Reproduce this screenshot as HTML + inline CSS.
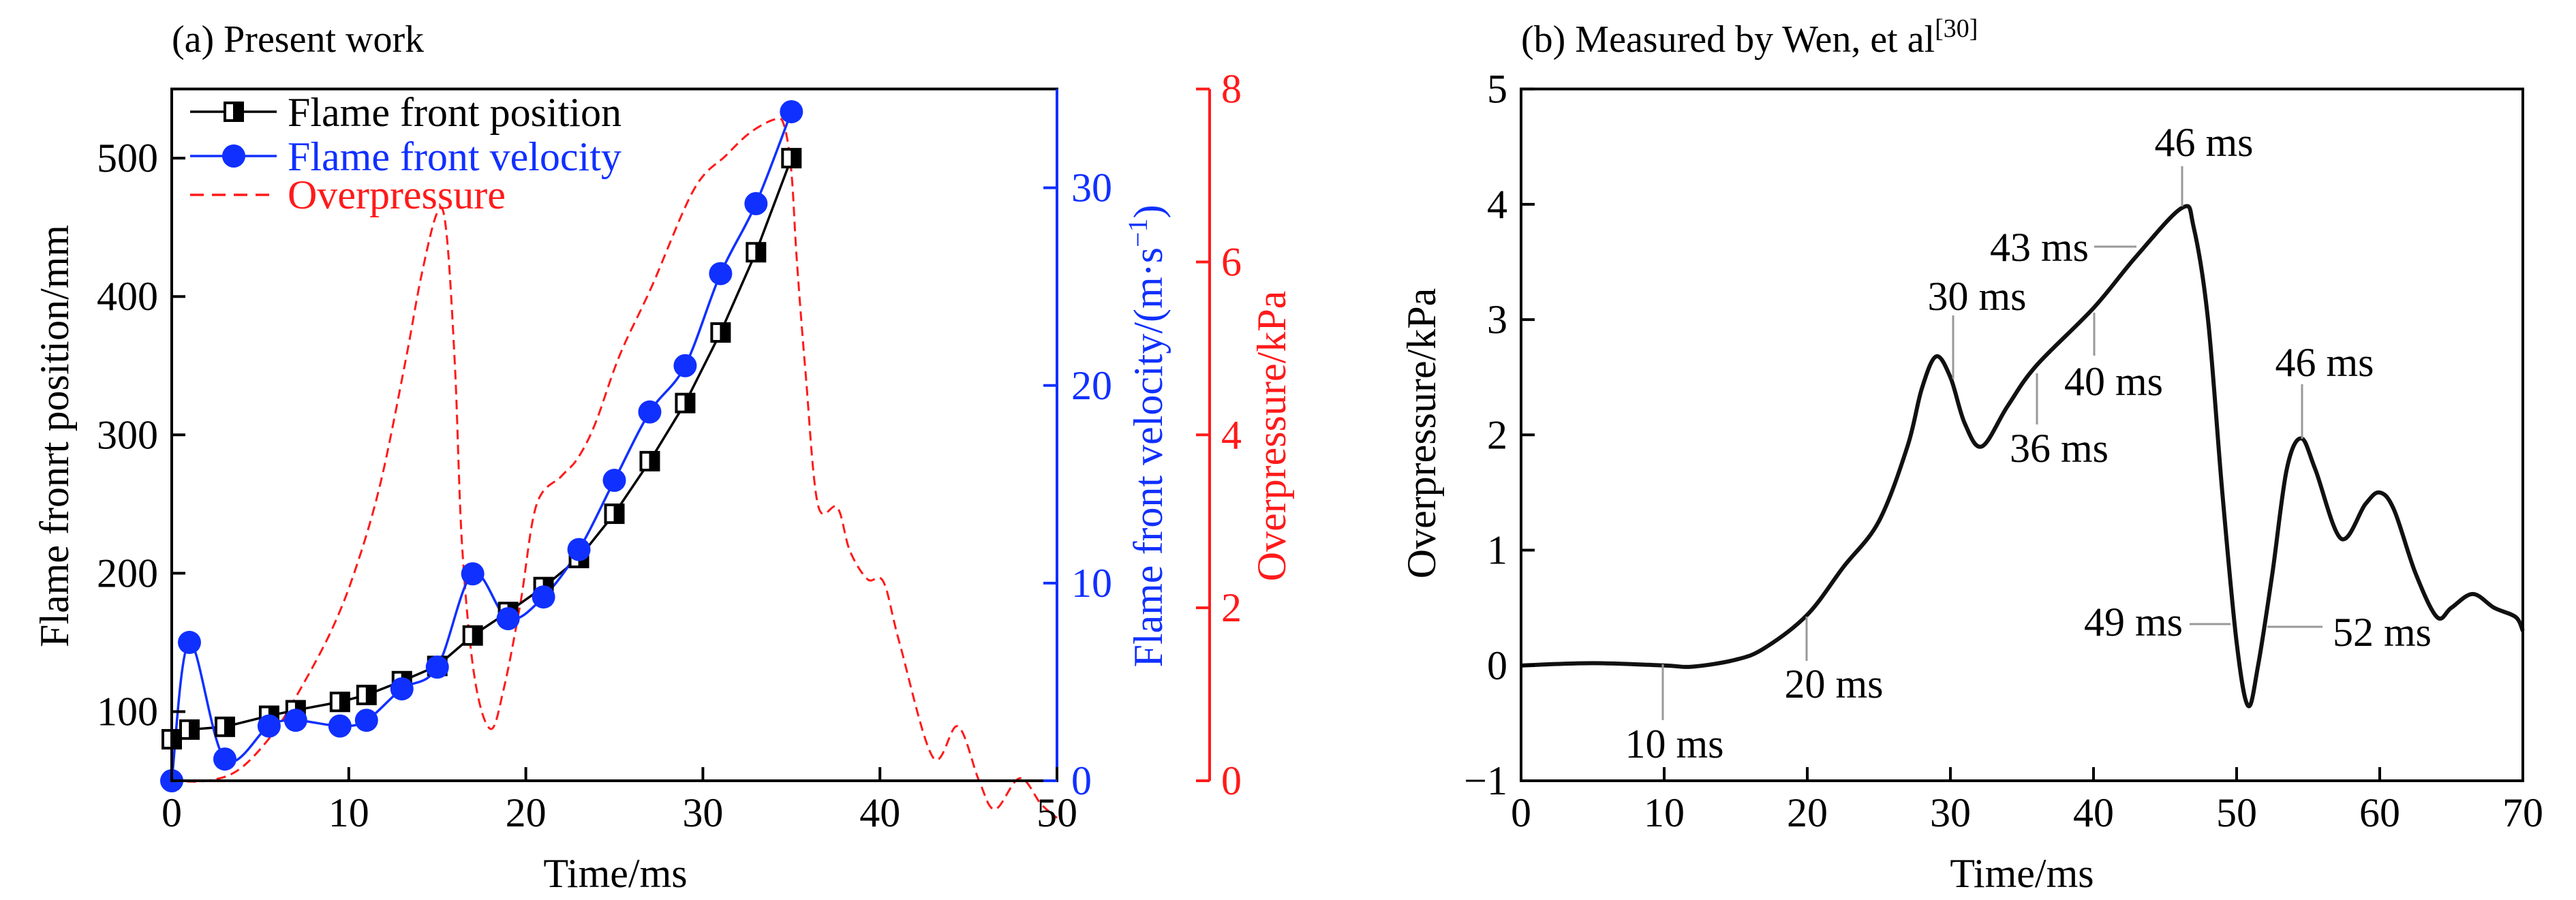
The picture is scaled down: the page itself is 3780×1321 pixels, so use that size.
<!DOCTYPE html>
<html><head><meta charset="utf-8"><style>
html,body{margin:0;padding:0;background:#fff;}
svg{display:block;font-family:"Liberation Serif",serif;}
</style></head><body>
<svg id="fig" width="3780" height="1321" viewBox="0 0 3780 1321" xmlns="http://www.w3.org/2000/svg">
<g id="left"></g>
<g id="right"></g>
</svg>
<script>
// ---- Left chart data ----
const posT = [0,1,3,5.5,7,9.5,11,13,15,17,19,21,23,25,27,29,31,33,35];
const posV = [80,87,89,97,101,107,112,122,133,155,172,190,211,243,281,323,374,432,500];
const velT = [0,1,3,5.5,7,9.5,11,13,15,17,19,21,23,25,27,29,31,33,35];
const velV = [0,7.0,1.1,2.77,3.06,2.77,3.06,4.65,5.75,10.47,8.2,9.3,11.7,15.2,18.66,21.0,25.66,29.2,33.85];
const prT = [0,2,3.8,5.7,7.1,9,10.4,11.8,13.2,14.1,15,15.5,16,16.4,17.1,18,18.75,19.7,20.6,22,22.9,23.9,25.3,27.1,29.5,31.3,32.7,34.1,34.6,35,35.3,35.8,36.5,37.6,38.3,39.3,40.2,41.1,43,44.4,45.6,46.5,47.9,49.1,50];
const prV = [0,0,0.13,0.54,1.0,1.73,2.46,3.45,4.85,5.84,6.57,6.37,4.78,2.72,1.2,0.6,1.06,2.06,3.19,3.52,3.72,4.12,4.92,5.71,6.84,7.23,7.5,7.65,7.57,7.04,6.04,4.72,3.19,3.16,2.66,2.33,2.3,1.6,0.27,0.63,0,-0.33,0.03,-0.27,-0.43];
const lxTicks = [0,10,20,30,40,50];
const lyTicks = [100,200,300,400,500];
const blueTicks = [0,10,20,30];
const redTicks = [0,2,4,6,8];
// ---- Right chart data ----
const mT = [0,5,10,12,15,17,20,22.5,25,27,28,29,30,31,32.2,34,36,40,43,46.2,47,48,49,50,50.8,51.5,52.5,53.5,54.5,55.5,57.3,59,60,61,62.5,64,65,66.5,68,69.5,70];
const mV = [0,0.02,0,-0.01,0.05,0.15,0.44,0.85,1.25,1.9,2.4,2.68,2.5,2.1,1.9,2.25,2.6,3.1,3.55,3.97,3.8,3.0,1.5,0.2,-0.35,0,0.8,1.7,1.97,1.7,1.1,1.4,1.5,1.35,0.8,0.42,0.5,0.62,0.5,0.42,0.3];
const rxTicks = [0,10,20,30,40,50,60,70];
const ryTicks = [-1,0,1,2,3,4,5];

const NS="http://www.w3.org/2000/svg";
function mk(parent,tag,attrs,text){const e=document.createElementNS(NS,tag);for(const k in attrs)e.setAttribute(k,attrs[k]);if(text!==undefined)e.textContent=text;parent.appendChild(e);return e;}
function spline(pts){let d=`M${pts[0][0]},${pts[0][1]}`;for(let i=0;i<pts.length-1;i++){const p0=pts[Math.max(0,i-1)],p1=pts[i],p2=pts[i+1],p3=pts[Math.min(pts.length-1,i+2)];const c1=[p1[0]+(p2[0]-p0[0])/6,p1[1]+(p2[1]-p0[1])/6],c2=[p2[0]-(p3[0]-p1[0])/6,p2[1]-(p3[1]-p1[1])/6];d+=`C${c1[0]},${c1[1]} ${c2[0]},${c2[1]} ${p2[0]},${p2[1]}`;}return d;}

// Left axes
const L={x0:252,x1:1551,y0:130.6,y1:1146};
const lx=t=>L.x0+(t-0)/50*(L.x1-L.x0);
const ly=v=>L.y1-(v-50)/500*(L.y1-L.y0);
const by=v=>L.y1-v/35*(L.y1-L.y0);
const ry=v=>L.y1-v/8*(L.y1-L.y0);
const lg=document.getElementById('left');
let e;
e=mk(lg,'text',{x:252,y:76,'font-size':56},'(a) Present work');

e=mk(lg,'path',{d:spline(prT.map((t,i)=>[lx(t),ry(prV[i])])),fill:'none',stroke:'#ff1a1a','stroke-width':3,'stroke-dasharray':'14,8'});

e=mk(lg,'path',{d:'M'+posT.map((t,i)=>lx(t)+','+ly(posV[i])).join('L'),fill:'none',stroke:'#000','stroke-width':3.5});

e=mk(lg,'path',{d:spline(velT.map((t,i)=>[lx(t),by(velV[i])])),fill:'none',stroke:'#1030ff','stroke-width':3.5});

function sq(g,x,y){const s=26;const gg=mk(g,'g',{});mk(gg,'rect',{x:x-s/2,y:y-s/2,width:s,height:s,fill:'#fff',stroke:'#000','stroke-width':4});mk(gg,'rect',{x:x-2,y:y-s/2,width:s/2+2,height:s,fill:'#000'});mk(gg,'rect',{x:x-s/2+4,y:y-s/2+2,width:s/2-5,height:s-4,fill:'#fff'});return gg;}
posT.forEach((t,i)=>{const m=sq(lg,lx(t),ly(posV[i]));

});
velT.forEach((t,i)=>{const m=mk(lg,'circle',{cx:lx(t),cy:by(velV[i]),r:17,fill:'#1030ff'});

});
e=mk(lg,'rect',{x:L.x0,y:L.y0,width:L.x1-L.x0,height:L.y1-L.y0,fill:'none',stroke:'#000','stroke-width':4});

e=mk(lg,'line',{x1:L.x1,y1:L.y0,x2:L.x1,y2:L.y1,stroke:'#1030ff','stroke-width':4});

e=mk(lg,'line',{x1:1775,y1:L.y0,x2:1775,y2:L.y1,stroke:'#ff1a1a','stroke-width':4});

lxTicks.forEach(t=>{mk(lg,'line',{x1:lx(t),y1:L.y1,x2:lx(t),y2:L.y1-20,stroke:'#000','stroke-width':4});
const tx=mk(lg,'text',{x:lx(t),y:1213,'font-size':60,'text-anchor':'middle'},t);

});
lyTicks.forEach(v=>{mk(lg,'line',{x1:L.x0,y1:ly(v),x2:L.x0+20,y2:ly(v),stroke:'#000','stroke-width':4});
const tx=mk(lg,'text',{x:232,y:ly(v)+20,'font-size':60,'text-anchor':'end'},v);

});
blueTicks.forEach(v=>{mk(lg,'line',{x1:L.x1,y1:by(v),x2:L.x1-20,y2:by(v),stroke:'#1030ff','stroke-width':4});
const tx=mk(lg,'text',{x:1572,y:by(v)+20,'font-size':60,fill:'#1030ff'},v);

});
redTicks.forEach(v=>{mk(lg,'line',{x1:1775,y1:ry(v),x2:1755,y2:ry(v),stroke:'#ff1a1a','stroke-width':4});
const tx=mk(lg,'text',{x:1792,y:ry(v)+20,'font-size':60,fill:'#ff1a1a'},v);

});
</script>
<script>
const fig=document.getElementById('fig');
let t2;
t2=mk(fig,'text',{x:903,y:1302,'font-size':60,'text-anchor':'middle'},'Time/ms');

t2=mk(fig,'text',{transform:'translate(100,640) rotate(-90)','font-size':60,'text-anchor':'middle'},'Flame fronrt position/mm');

t2=mk(fig,'text',{transform:'translate(1705,640) rotate(-90)','font-size':60,'text-anchor':'middle',fill:'#1030ff'});

t2.innerHTML='Flame front velocity/(m·s<tspan dy="-22" font-size="40">−1</tspan><tspan dy="22">)</tspan>';
t2=mk(fig,'text',{transform:'translate(1886,640) rotate(-90)','font-size':60,'text-anchor':'middle',fill:'#ff1a1a'},'Overpressure/kPa');

const leg=mk(fig,'g',{});

mk(leg,'line',{x1:279,y1:164,x2:406,y2:164,stroke:'#000','stroke-width':3.5});sq(leg,343,164);
mk(leg,'text',{x:422,y:185,'font-size':60},'Flame front position');
mk(leg,'line',{x1:279,y1:229,x2:406,y2:229,stroke:'#1030ff','stroke-width':3.5});mk(leg,'circle',{cx:343,cy:229,r:17,fill:'#1030ff'});
mk(leg,'text',{x:422,y:250,'font-size':60,fill:'#1030ff'},'Flame front velocity');
mk(leg,'line',{x1:279,y1:286,x2:406,y2:286,stroke:'#ff1a1a','stroke-width':3.5,'stroke-dasharray':'20,12'});
mk(leg,'text',{x:422,y:306,'font-size':60,fill:'#ff1a1a'},'Overpressure');

const R={x0:2232,x1:3702,y0:130.6,y1:1146};
const rx=t=>R.x0+t/70*(R.x1-R.x0);
const rv=v=>R.y1-(v+1)/6*(R.y1-R.y0);
const rg=document.getElementById('right');
t2=mk(rg,'text',{x:2232,y:76,'font-size':56});

t2.innerHTML='(b) Measured by Wen, et al<tspan dy="-22" font-size="38">[30]</tspan>';
t2=mk(rg,'path',{d:spline(mT.map((t,i)=>[rx(t),rv(mV[i])])),fill:'none',stroke:'#111','stroke-width':6});

t2=mk(rg,'rect',{x:R.x0,y:R.y0,width:R.x1-R.x0,height:R.y1-R.y0,fill:'none',stroke:'#000','stroke-width':4});

rxTicks.forEach(t=>{mk(rg,'line',{x1:rx(t),y1:R.y1,x2:rx(t),y2:R.y1-20,stroke:'#000','stroke-width':4});
const tx=mk(rg,'text',{x:rx(t),y:1213,'font-size':60,'text-anchor':'middle'},t);

});
ryTicks.forEach(v=>{mk(rg,'line',{x1:R.x0,y1:rv(v),x2:R.x0+20,y2:rv(v),stroke:'#000','stroke-width':4});
const tx=mk(rg,'text',{x:2212,y:rv(v)+20,'font-size':60,'text-anchor':'end'},v<0?'−'+(-v):v);

});
t2=mk(rg,'text',{x:2967,y:1302,'font-size':60,'text-anchor':'middle'},'Time/ms');

t2=mk(rg,'text',{transform:'translate(2106,636) rotate(-90)','font-size':60,'text-anchor':'middle'},'Overpressure/kPa');

const ann=[
[2440,975,2440,1057,2457,1112,'middle','10 ms'],
[2651,905,2651,970,2691,1024,'middle','20 ms'],
[2866,463,2866,556,2901,455,'middle','30 ms'],
[2989,548,2989,623,2949,678,'start','36 ms'],
[3073,459,3073,522,3029,580,'start','40 ms'],
[3073,362,3135,362,3065,383,'end','43 ms'],
[3202,244,3202,303,3234,229,'middle','46 ms'],
[3378,564,3378,644,3411,552,'middle','46 ms'],
[3213,916,3273,916,3203,933,'end','49 ms'],
[3327,920,3408,920,3423,948,'start','52 ms']];
ann.forEach(a=>{mk(rg,'line',{x1:a[0],y1:a[1],x2:a[2],y2:a[3],stroke:'#999','stroke-width':3});
const tx=mk(rg,'text',{x:a[4],y:a[5],'font-size':60,'text-anchor':a[6]},a[7]);

});
</script>
</body></html>
